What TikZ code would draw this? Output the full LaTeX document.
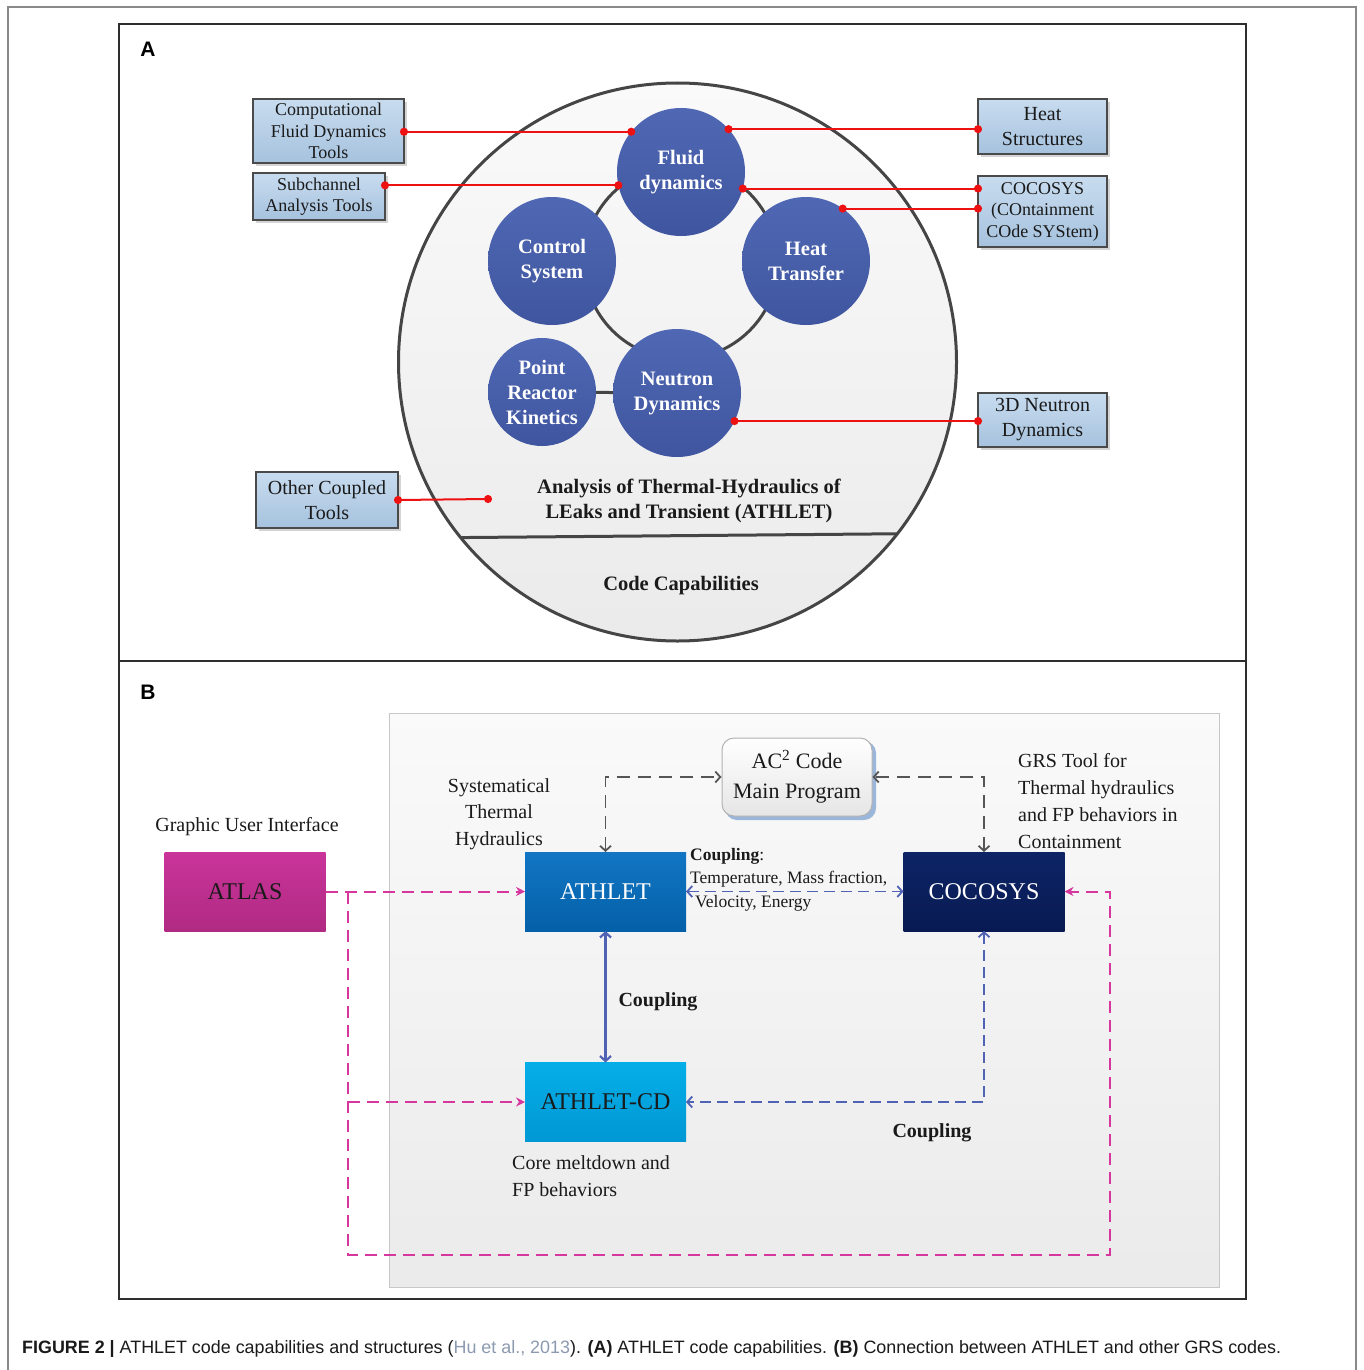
\documentclass[tikz,border=0pt]{standalone}
\usepackage{fontspec}
\setmainfont{Liberation Serif}
\setsansfont{Liberation Sans}
\usetikzlibrary{arrows.meta,calc}
\definecolor{frameg}{HTML}{8A8A8A}
\definecolor{panelline}{HTML}{2E2E2E}
\definecolor{ringline}{HTML}{454545}
\definecolor{bubtop}{HTML}{5068B4}
\definecolor{bubbot}{HTML}{3F559F}
\definecolor{boxtop}{HTML}{C8DCEF}
\definecolor{boxbot}{HTML}{A6C2DE}
\definecolor{boxline}{HTML}{4A4A4A}
\definecolor{redl}{HTML}{EE1111}
\definecolor{athtop}{HTML}{1276C4}
\definecolor{athbot}{HTML}{0460A8}
\definecolor{coctop}{HTML}{0D2466}
\definecolor{cocbot}{HTML}{081A52}
\definecolor{atltop}{HTML}{CA349A}
\definecolor{atlbot}{HTML}{B02A82}
\definecolor{cdtop}{HTML}{05AEE8}
\definecolor{cdbot}{HTML}{0098D4}
\definecolor{magl}{HTML}{D6379E}
\definecolor{bluel}{HTML}{4F62B4}
\definecolor{grayl}{HTML}{555555}
\definecolor{capgray}{HTML}{8C9AB0}
\definecolor{txt}{HTML}{1A1A1A}
\definecolor{acshadow}{HTML}{9AB6DA}
\definecolor{boxshadow}{HTML}{D4D4D4}
\tikzset{
  bub/.style={circle, minimum size=128pt, inner sep=0pt, outer sep=0pt,
    top color=bubtop, bottom color=bubbot, text=white, align=center,
    font=\fontsize{20.5}{25}\selectfont\bfseries},
  tbox/.style={draw=boxline, line width=2pt, top color=boxtop, bottom color=boxbot,
    align=center, inner sep=0pt, outer sep=0pt, text=txt},
  small/.style={font=\fontsize{18}{21.5}\selectfont},
  big/.style={font=\fontsize{20}{25}\selectfont},
  redcon/.style={draw=redl, line width=2pt, {Circle[length=8pt]}-{Circle[length=8pt]},
    shorten <=-4pt, shorten >=-4pt},
  bbox/.style={inner sep=0pt, outer sep=0pt, minimum width=161pt, minimum height=79pt,
    font=\fontsize{24}{28}\selectfont},
  lab/.style={text=txt, align=center, inner sep=0pt, font=\fontsize{20}{26.5}\selectfont},
  gdash/.style={draw=grayl, line width=1.8pt, dash pattern=on 13pt off 8pt, {Straight Barb[length=5pt,width=11pt]}-{Straight Barb[length=5pt,width=11pt]}},
  bdash/.style={draw=bluel, line width=1.8pt, dash pattern=on 11pt off 6pt, {Straight Barb[length=5pt,width=11pt]}-{Straight Barb[length=5pt,width=11pt]}},
  bsolid/.style={draw=bluel, line width=2.2pt, {Straight Barb[length=5pt,width=11pt]}-{Straight Barb[length=5pt,width=11pt]}},
  mdash/.style={draw=magl, line width=2pt, dash pattern=on 12pt off 7pt},
  mtip/.style={-{Stealth[length=9pt,width=9pt]}}
}
\begin{document}
\begin{tikzpicture}[x=1pt,y=-1pt]
\useasboundingbox (0,0) rectangle (1363,1370);
\fill[white] (0,0) rectangle (1363,1370);
% outer frame
\draw[frameg, line width=1.5pt] (8,1370) -- (8,7) -- (1356,7) -- (1356,1370);
% panel frames
\draw[panelline, line width=2pt] (119,24) rectangle (1246,661);
\draw[panelline, line width=2pt] (119,661) rectangle (1246,1299);
\node[font=\sffamily\bfseries\fontsize{21}{21}\selectfont] (labA) at (148,49) {A};
\node[font=\sffamily\bfseries\fontsize{21}{21}\selectfont] (labB) at (148,692) {B};

% ---------------- Panel A
\node[circle, minimum size=558pt, inner sep=0pt, outer sep=0pt, draw=ringline, line width=3pt,
  top color=black!2, bottom color=black!8] (bigc) at (677.5,362) {};
\draw[ringline, line width=3pt] (bigc.-141.7) -- (bigc.-38.3);
\node[circle, minimum size=194pt, inner sep=0pt, outer sep=0pt, draw=ringline, line width=3pt] (ring) at (681,262) {};

\node[bub] (fd) at (681,172) {Fluid\\dynamics};
\node[bub] (cs) at (552,261) {Control\\System};
\node[bub] (ht) at (806,261) {Heat\\Transfer};
\node[bub] (nd) at (677,393) {Neutron\\Dynamics};
\node[bub, minimum size=108pt] (prk) at (542,392) {Point\\Reactor\\Kinetics};
\draw[ringline, line width=3pt] (prk) -- (nd);

\node[text=txt, align=center, font=\fontsize{20.5}{25}\selectfont\bfseries] (ath) at (689,501)
  {Analysis of Thermal-Hydraulics of\\LEaks and Transient (ATHLET)};
\node[text=txt, font=\fontsize{20.5}{25}\selectfont\bfseries] (cc) at (681,586) {Code Capabilities};

% box shadows
\fill[boxshadow] (256,102) rectangle (407,166);
\fill[boxshadow] (256,176) rectangle (388,223);
\fill[boxshadow] (981,102) rectangle (1110,157);
\fill[boxshadow] (981,179) rectangle (1110,250);
\fill[boxshadow] (981,396) rectangle (1110,450);
\fill[boxshadow] (259,475) rectangle (401,531);

\node[tbox, small, minimum width=151pt, minimum height=64pt] (cfd) at (328.5,131)
  {Computational\\Fluid Dynamics\\Tools};
\node[tbox, small, minimum width=132pt, minimum height=47pt] (sub) at (319,196.5)
  {Subchannel\\Analysis Tools};
\node[tbox, big, minimum width=129pt, minimum height=55pt] (hs) at (1042.5,126.5)
  {Heat\\Structures};
\node[tbox, small, minimum width=129pt, minimum height=71pt] (coc) at (1042.5,211.5)
  {COCOSYS\\(COntainment\\COde SYStem)};
\node[tbox, big, minimum width=129pt, minimum height=54pt] (tdn) at (1042.5,420)
  {3D Neutron\\Dynamics};
\node[tbox, big, minimum width=142pt, minimum height=56pt] (oct) at (327,500)
  {Other Coupled\\Tools};
\coordinate (ocend) at (488,499);

\draw[redcon] (cfd.east |- fd.141) -- (fd.141);
\draw[redcon] (sub.east |- fd.192) -- (fd.192);
\draw[redcon] (fd.42) -- (fd.42 -| hs.west);
\draw[redcon] (fd.-15) -- (fd.-15 -| coc.west);
\draw[redcon] (ht.55) -- (ht.55 -| coc.west);
\draw[redcon] (nd.-26) -- (nd.-26 -| tdn.west);
\draw[redcon] (oct.east) -- (ocend);

% ---------------- Panel B
\node[draw=black!22, line width=1pt, inner sep=0pt, outer sep=0pt, anchor=north west,
  minimum width=830pt, minimum height=574pt, top color=black!2, bottom color=black!8] (panelB) at (389,713) {};

\fill[acshadow, rounded corners=12pt] (725,741) rectangle (876,820);
\node[rounded corners=12pt, draw=black!30, line width=1pt, top color=white, bottom color=black!10,
  minimum width=150pt, minimum height=78pt, inner sep=0pt, align=center, text=txt,
  font=\fontsize{22}{30}\selectfont] (ac2) at (797,777) {AC\textsuperscript{2} Code\\Main Program};

\node[bbox, top color=athtop, bottom color=athbot, text=white] (athlet) at (605.5,891.5) {ATHLET};
\node[bbox, top color=coctop, bottom color=cocbot, text=white] (cocosys) at (984,891.5) {COCOSYS};
\node[bbox, top color=atltop, bottom color=atlbot, text=txt] (atlas) at (245,891.5) {ATLAS};
\node[bbox, top color=cdtop, bottom color=cdbot, text=txt] (acd) at (605.5,1102) {ATHLET-CD};

\node[lab] (gui) at (247,827) {Graphic User Interface};
\node[lab] (sth) at (499,814) {Systematical\\Thermal\\Hydraulics};
\node[lab, align=left, anchor=west, font=\fontsize{20}{26.7}\selectfont] (grs) at (1018,801)
  {GRS Tool for\\Thermal hydraulics\\and FP behaviors in\\Containment};
\node[text=txt, align=left, anchor=north west, inner sep=0pt, font=\fontsize{17.5}{23.5}\selectfont] (cpl)
  at (690,848) {\textbf{Coupling}:\\Temperature, Mass fraction,\\\hspace*{5pt}Velocity, Energy};
\node[text=txt, font=\fontsize{20}{24}\selectfont\bfseries] (cpl2) at (658,1002) {Coupling};
\node[text=txt, font=\fontsize{20}{24}\selectfont\bfseries] (cpl3) at (932,1133) {Coupling};
\node[lab, align=left, anchor=west, font=\fontsize{20}{27}\selectfont] (cmd) at (512,1176)
  {Core meltdown and\\FP behaviors};

% connectors
\draw[gdash] (athlet.north) |- (ac2.west);
\draw[gdash] (cocosys.north) |- (ac2.east);
\draw[bdash] (athlet.east) -- (cocosys.west);
\draw[bsolid] (athlet.south) -- (acd.north);
\draw[bdash] (cocosys.south) |- (acd.east);

\coordinate (m1) at (348,891.5);
\coordinate (m2) at (348,1255);
\coordinate (m3) at (1110,1255);
\draw[mdash, mtip] (atlas.east) -- (athlet.west);
\draw[mdash, mtip] (m1) -- (m2) -- (m3) |- (cocosys.east);
\draw[mdash, mtip] (m1 |- acd.west) -- (acd.west);

% caption
\node[anchor=west, inner sep=0pt, text=txt, font=\sffamily\fontsize{17.9}{20}\selectfont] (cap) at (22,1349)
  {\textbf{FIGURE 2 |} ATHLET code capabilities and structures (\textcolor{capgray}{Hu et al., 2013}). \textbf{(A)} ATHLET code capabilities. \textbf{(B)} Connection between ATHLET and other GRS codes.};
\end{tikzpicture}
\end{document}
